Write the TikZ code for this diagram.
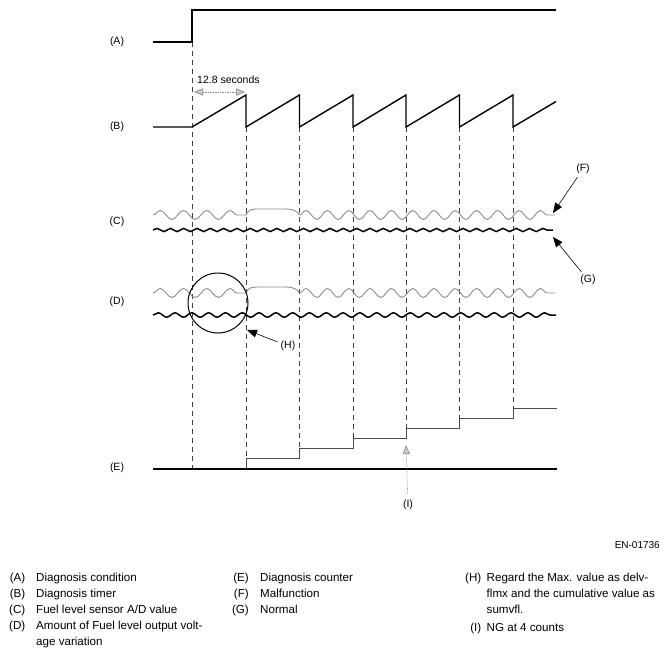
\documentclass[tikz,border=0pt]{standalone}
\usepackage{fontspec}
\setmainfont{Liberation Sans}
\usetikzlibrary{shapes,arrows,arrows.meta}
\usetikzlibrary{decorations.pathmorphing}

\begin{document}
\begin{tikzpicture}[x=1pt,y=-1pt]
\tikzstyle{every node} = [font=\fontsize{10.5}{16.5}\selectfont,inner sep=0pt]
\tikzstyle{legend} = [font=\fontsize{11.6}{15.8}\selectfont]
\tikzstyle{sigline} = [line width=1.4pt]
\tikzstyle{countstep} = [line width=0.9pt,color=black!70]
\tikzstyle{timemark} = [dash pattern=on 5pt off 4pt,color=black!75,line width=0.6pt]
\tikzstyle{grayline} = [color=black!45,line width=0.9pt]
\tikzstyle{graywave} = [grayline,decorate,decoration={snake,amplitude=4.5pt}]
\tikzstyle{blackwave} = [line width=1.5pt,decorate,decoration={snake,amplitude=1.6pt}]
\tikzstyle{pointer} = [-{Triangle[length=10pt,width=8pt]},line width=0.6pt]
\tikzstyle{graypointer} = [-{Triangle[length=9pt,width=7pt,fill=black!20]},color=black!45,densely dotted,line width=0.7pt]
\tikzstyle{graydouble} = [{Triangle[length=9pt,width=7pt,fill=black!20]}-{Triangle[length=9pt,width=7pt,fill=black!20]},color=black!45,densely dotted,line width=0.7pt]
\useasboundingbox (0,0) rectangle (669,657);

\node (lA) at (117,42) {(A)};
\node (lB) at (117,127) {(B)};
\node (lC) at (117,222) {(C)};
\node (lD) at (117,302) {(D)};
\node (lE) at (117,468) {(E)};

\draw[timemark] (192,42) -- (192,469);
\draw[timemark] (246,127) -- (246,458);
\draw[timemark] (299.5,127) -- (299.5,448);
\draw[timemark] (353,127) -- (353,438);
\draw[timemark] (406,127) -- (406,428);
\draw[timemark] (459.5,127) -- (459.5,418);
\draw[timemark] (513,127) -- (513,408);

\draw[sigline] (153,42) -- (192,42) -- (192,10) -- (556,10);
\draw[sigline] (153,127) -- (192,127) -- (246,95) -- (246,127) -- (299.5,95) -- (299.5,127) -- (353,95) -- (353,127) -- (406,95) -- (406,127) -- (459.5,95) -- (459.5,127) -- (513,95) -- (513,127) -- (556,101.5);

\coordinate (tL) at (194,92);
\coordinate (tR) at (245,92);
\draw[graydouble] (tL) -- (tR);
\node[anchor=west] (lT) at (197,80) {12.8 seconds};

\draw[graywave,decoration={segment length=23.25pt}] (153,215) -- (246,215);
\draw[grayline] (246,215) .. controls (249,209) and (252,209) .. (258,209) -- (286,209) .. controls (293,209) and (297,211) .. (299.5,215);
\draw[graywave,decoration={segment length=21.3pt}] (299.5,215) -- (555,215);
\draw[blackwave,decoration={segment length=13.3pt}] (153,230) -- (553,230);

\draw[graywave,decoration={segment length=23.25pt}] (153,293) -- (246,293);
\draw[grayline] (246,293) .. controls (249,287) and (252,287) .. (258,287) -- (286,287) .. controls (293,287) and (297,289) .. (299.5,293);
\draw[graywave,decoration={segment length=21.3pt}] (299.5,293) -- (555,293);
\draw[blackwave,decoration={segment length=16.8pt,amplitude=2.2pt}] (153,315) -- (556,315);

\draw[line width=1pt] (218,303) circle[radius=30];

\draw[sigline] (153,469) -- (557,469);
\draw[countstep] (246,469) -- (246,458) -- (299.5,458) -- (299.5,448) -- (353,448) -- (353,438) -- (406,438) -- (406,428) -- (459.5,428) -- (459.5,418) -- (513,418) -- (513,408) -- (557,408);

\coordinate (fT) at (553,213);
\coordinate (gT) at (553,237);
\coordinate (hT) at (247,330);
\coordinate (iT) at (406,445);
\node[inner sep=3pt] (lF) at (583,169) {(F)};
\node[inner sep=3pt] (lG) at (588,280) {(G)};
\node[inner sep=3pt] (lH) at (288,346) {(H)};
\node[inner sep=6pt] (lI) at (408,505) {(I)};
\draw[pointer] (lF) -- (fT);
\draw[pointer] (lG) -- (gT);
\draw[pointer] (lH) -- (hT);
\draw[graypointer] (lI) -- (iT);

\node[anchor=base east,font=\fontsize{10}{12}\selectfont] (code) at (660,548.3) {EN-01736};

\node[legend,anchor=base east] (kA) at (25.5,581.5) {(A)};
\node[legend,anchor=base east] (kB) at (25.5,597.3) {(B)};
\node[legend,anchor=base east] (kC) at (25.5,613.2) {(C)};
\node[legend,anchor=base east] (kD) at (25.5,629.1) {(D)};
\node[legend,anchor=base west] (tA) at (36,581.5) {Diagnosis condition};
\node[legend,anchor=base west] (tB) at (36,597.3) {Diagnosis timer};
\node[legend,anchor=base west] (tC) at (36,613.2) {Fuel level sensor A/D value};
\node[legend,anchor=base west,align=left] (tD) at (36,645) {Amount of Fuel level output volt-\\age variation};

\node[legend,anchor=base east] (kE) at (249,581.5) {(E)};
\node[legend,anchor=base east] (kF) at (249,597.3) {(F)};
\node[legend,anchor=base east] (kG) at (249,613.2) {(G)};
\node[legend,anchor=base west] (tE) at (260,581.5) {Diagnosis counter};
\node[legend,anchor=base west] (tF) at (260,597.3) {Malfunction};
\node[legend,anchor=base west] (tG) at (260,613.2) {Normal};

\node[legend,anchor=base east] (kH) at (481.5,581.5) {(H)};
\node[legend,anchor=base east] (kI) at (481.5,631.7) {(I)};
\node[legend,anchor=base west,align=left] (tH) at (486.5,613) {Regard the Max. value as delv-\\flmx and the cumulative value as\\sumvfl.};
\node[legend,anchor=base west] (tI) at (486.5,631.7) {NG at 4 counts};
\end{tikzpicture}
\end{document}
